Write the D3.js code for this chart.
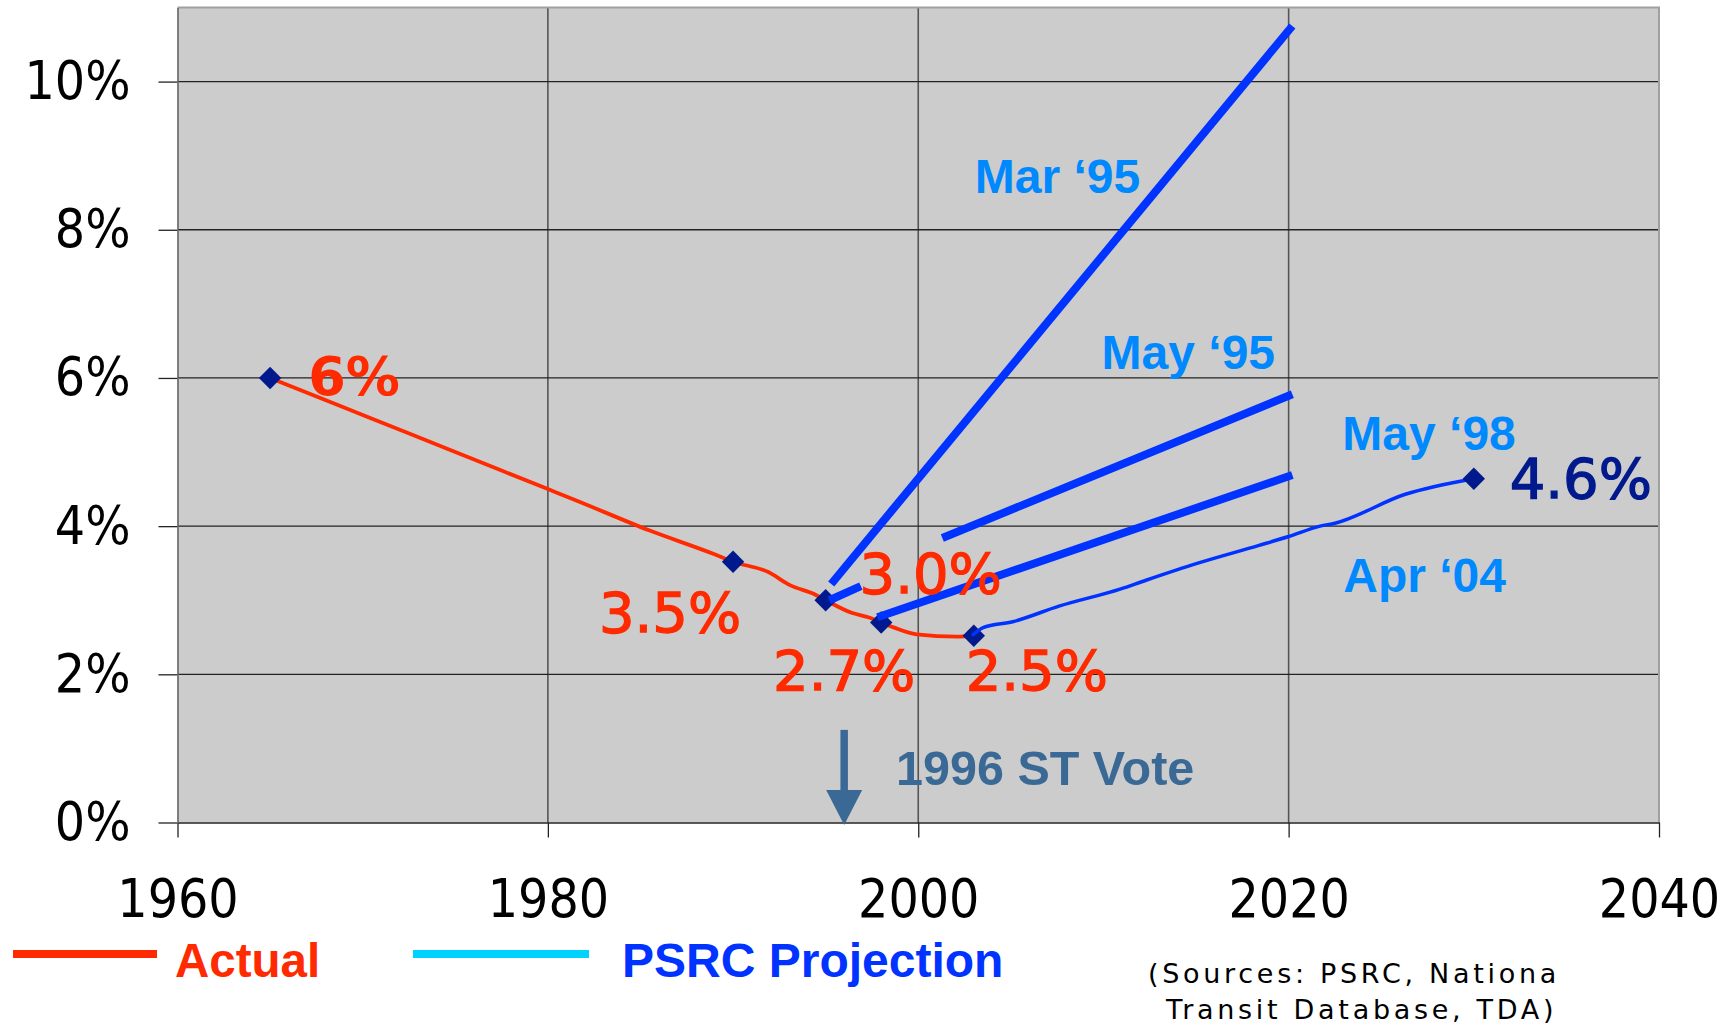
<!DOCTYPE html>
<html>
<head>
<meta charset="utf-8">
<script src="https://cdn.jsdelivr.net/npm/d3@7"></script>
<style>
  html, body { margin: 0; padding: 0; background: #fff; }
  svg { display: block; }
</style>
</head>
<body>
<div id="chart"></div>
<script>
// Actual transit share (percent)
const actualYears  = [1965, 1970, 1975, 1980, 1981.4, 1985.5, 1989, 1990, 1991.9, 1993.1, 1994.4, 1995, 1996.4, 1997.3, 1998, 1998.7, 1999.9, 2002.1, 2003];
const actualValues = [6.0, 5.5, 5.0, 4.5, 4.36, 3.94, 3.62, 3.52, 3.38, 3.2, 3.08, 3.0, 2.83, 2.77, 2.7, 2.63, 2.54, 2.51, 2.52];
const markerYears  = [1965, 1990, 1995, 1998, 2003];
const markerValues = [6.0, 3.52, 3.0, 2.7, 2.52];
const markerLabels = ["6%", "3.5%", "3.0%", "2.7%", "2.5%"];

// PSRC projections
const mar95Years  = [1995.3, 2020.2];
const mar95Values = [3.22, 10.75];
const may95Years  = [1995.2, 1996.9, null, 2001.3, 2020.2];   // middle hidden behind the 3.0% label
const may95Values = [3.0, 3.19, null, 3.84, 5.78];
const may98Years  = [1997.8, 2020.2];
const may98Values = [2.77, 4.69];
const apr04Years  = [2002.9, 2003.5, 2005.1, 2007.6, 2010.9, 2012.3, 2015.1, 2018.4, 2020, 2021.7, 2022.5, 2026.3, 2030];
const apr04Values = [2.52, 2.63, 2.71, 2.92, 3.15, 3.27, 3.5, 3.74, 3.86, 4.0, 4.04, 4.43, 4.64];
const endYear = 2030, endValue = 4.64, endLabel = "4.6%";

const projNames      = ["Mar \u201895", "May \u201895", "May \u201898", "Apr \u201804"];
const projNameYears  = [2003.05, 2009.9, 2022.9, 2022.95];
const projNameValues = [8.5, 6.12, 5.03, 3.11];

const voteYear = 1996, voteTop = 1.25, voteText = "1996 ST Vote";

const xTicks = [1960, 1980, 2000, 2020, 2040];
const yTicks = [0, 2, 4, 6, 8, 10];

const W = 1732, H = 1029;
const plot = { left: 177.5, right: 1659, top: 7.5, bottom: 822.5 };

const red = '#ff2a00', blue = '#0033ff', navy = '#00198c', lightBlue = '#0088ff', steel = '#3b6996';
const axisFont = '"DejaVu Sans Condensed", "DejaVu Sans", sans-serif';
const labelFont = '"DejaVu Sans", Verdana, sans-serif';
const boldFont = '"Liberation Sans", Arial, sans-serif';

const svg = d3.select('#chart').append('svg')
    .attr('width', W)
    .attr('height', H);

const x = d3.scaleLinear().domain([1960, 2040]).range([plot.left, plot.right]);
const y = d3.scaleLinear().domain([0, 11]).range([plot.bottom, plot.top]);

// Plot background
svg.append('rect')
    .attr('x', plot.left).attr('y', plot.top)
    .attr('width', plot.right - plot.left)
    .attr('height', plot.bottom - plot.top)
    .attr('fill', '#cccccc');

// Gridlines
svg.append('g').selectAll('line')
    .data(xTicks.slice(1, -1))
    .enter().append('line')
    .attr('x1', d => x(d)).attr('x2', d => x(d))
    .attr('y1', plot.top).attr('y2', plot.bottom)
    .attr('stroke', '#555').attr('stroke-width', 1.6);

svg.append('g').selectAll('line')
    .data(yTicks.slice(1))
    .enter().append('line')
    .attr('x1', plot.left).attr('x2', plot.right)
    .attr('y1', d => y(d)).attr('y2', d => y(d))
    .attr('stroke', '#222').attr('stroke-width', 1.3);

// Frame
svg.append('path')
    .attr('d', `M${plot.left},${plot.top}H${plot.right}V${plot.bottom}`)
    .attr('fill', 'none').attr('stroke', '#a0a0a0').attr('stroke-width', 2);

// Axes
const xAxis = svg.append('g')
    .attr('transform', `translate(0,${plot.bottom})`)
    .call(d3.axisBottom(x).tickValues(xTicks).tickSize(15).tickSizeOuter(0).tickPadding(42).tickFormat(d3.format('d')));
const yAxis = svg.append('g')
    .attr('transform', `translate(${plot.left},0)`)
    .call(d3.axisLeft(y).tickValues(yTicks).tickSize(19).tickSizeOuter(0).tickPadding(28).tickFormat(d => d + '%'));

xAxis.select('.domain').attr('stroke', '#222').attr('stroke-width', 1.3);
yAxis.select('.domain').attr('stroke', '#666').attr('stroke-width', 1.6);
[xAxis, yAxis].forEach(a => {
    a.selectAll('.tick line').attr('stroke', '#222').attr('stroke-width', 1.3);
    a.selectAll('.tick text')
        .attr('fill', '#000')
        .style('font-family', axisFont)
        .style('font-stretch', 'condensed')
        .style('font-size', '53px');
});
yAxis.select('.domain').raise();

const line = d3.line()
    .defined(d => d[0] !== null)
    .x(d => x(d[0]))
    .y(d => y(d[1]));
const zip = (a, b) => a.map((v, i) => [v, b[i]]);

// Actual line
svg.append('path')
    .datum(zip(actualYears, actualValues))
    .attr('d', line.curve(d3.curveMonotoneX))
    .attr('fill', 'none').attr('stroke', red).attr('stroke-width', 3.8);
line.curve(d3.curveLinear);

// 1996 vote arrow
const vx = x(voteYear), tipY = y(0) + 2.5, headLen = 35;
svg.append('line')
    .attr('x1', vx).attr('x2', vx)
    .attr('y1', y(voteTop)).attr('y2', tipY - headLen + 2)
    .attr('stroke', steel).attr('stroke-width', 7.5);
svg.append('path')
    .attr('d', `M${vx - 18},${tipY - headLen}L${vx + 18},${tipY - headLen}L${vx},${tipY}Z`)
    .attr('fill', steel);
svg.append('text')
    .attr('x', x(1998.8)).attr('y', y(0.5))
    .style('font-family', boldFont).style('font-weight', 'bold').style('font-size', '48.5px')
    .attr('fill', steel)
    .text(voteText);

// Actual markers
const diamond = d3.symbol(d3.symbolSquare, 250);
svg.append('g').selectAll('path')
    .data(zip(markerYears, markerValues))
    .enter().append('path')
    .attr('d', diamond)
    .attr('transform', d => `translate(${x(d[0])},${y(d[1])}) rotate(45)`)
    .attr('fill', navy);

// Projection lines
const thick = [[may95Years, may95Values], [mar95Years, mar95Values], [may98Years, may98Values]];
svg.append('g').selectAll('path')
    .data(thick)
    .enter().append('path')
    .attr('d', d => line(zip(d[0], d[1])))
    .attr('fill', 'none').attr('stroke', blue).attr('stroke-width', 8);

svg.append('path')
    .datum(zip(apr04Years, apr04Values))
    .attr('d', line.curve(d3.curveMonotoneX))
    .attr('fill', 'none').attr('stroke', blue).attr('stroke-width', 3.5);

svg.append('path')
    .attr('d', diamond)
    .attr('transform', `translate(${x(endYear)},${y(endValue)}) rotate(45)`)
    .attr('fill', navy);

// Data labels (offsets from their marker, in px)
const labelDx = [84, -63, 105, -37, 63];
const labelDy = [17, 70, -7, 68, 54];
svg.append('g').selectAll('text')
    .data(markerLabels)
    .enter().append('text')
    .attr('x', (d, i) => x(markerYears[i]) + labelDx[i])
    .attr('y', (d, i) => y(markerValues[i]) + labelDy[i])
    .attr('text-anchor', 'middle')
    .style('font-family', labelFont)
    .style('font-size', (d, i) => i === 0 ? '54px' : '56px')
    .style('font-weight', (d, i) => i === 0 ? 'bold' : 'normal')
    .attr('fill', red)
    .attr('stroke', red)
    .attr('stroke-width', (d, i) => i === 0 ? 0 : 1.3)
    .text(d => d);

svg.append('text')
    .attr('x', x(endYear) + 107).attr('y', y(endValue) + 19)
    .attr('text-anchor', 'middle')
    .style('font-family', labelFont).style('font-size', '56px')
    .attr('fill', navy).attr('stroke', navy).attr('stroke-width', 1.3)
    .text(endLabel);

// Projection names
svg.append('g').selectAll('text')
    .data(projNames)
    .enter().append('text')
    .attr('x', (d, i) => x(projNameYears[i]))
    .attr('y', (d, i) => y(projNameValues[i]))
    .style('font-family', boldFont).style('font-weight', 'bold').style('font-size', '48px')
    .attr('fill', lightBlue)
    .text(d => d);

// Legend
const legend = svg.append('g');
legend.append('line')
    .attr('x1', 13).attr('x2', 157).attr('y1', 954).attr('y2', 954)
    .attr('stroke', red).attr('stroke-width', 8);
legend.append('text')
    .attr('x', 175).attr('y', 977)
    .style('font-family', boldFont).style('font-weight', 'bold').style('font-size', '47.5px')
    .attr('fill', red).text('Actual');
legend.append('line')
    .attr('x1', 413).attr('x2', 589).attr('y1', 954).attr('y2', 954)
    .attr('stroke', '#00d2ff').attr('stroke-width', 8);
legend.append('text')
    .attr('x', 622).attr('y', 977)
    .style('font-family', boldFont).style('font-weight', 'bold').style('font-size', '48px')
    .attr('fill', blue).text('PSRC Projection');

// Sources note
const note = svg.append('g')
    .style('font-family', labelFont).style('font-size', '27px')
    .style('letter-spacing', '3.7px').attr('fill', '#000');
note.append('text').attr('x', 1148).attr('y', 983).text('(Sources: PSRC, Nationa');
note.append('text').attr('x', 1166).attr('y', 1019).text('Transit Database, TDA)');
</script>
</body>
</html>
